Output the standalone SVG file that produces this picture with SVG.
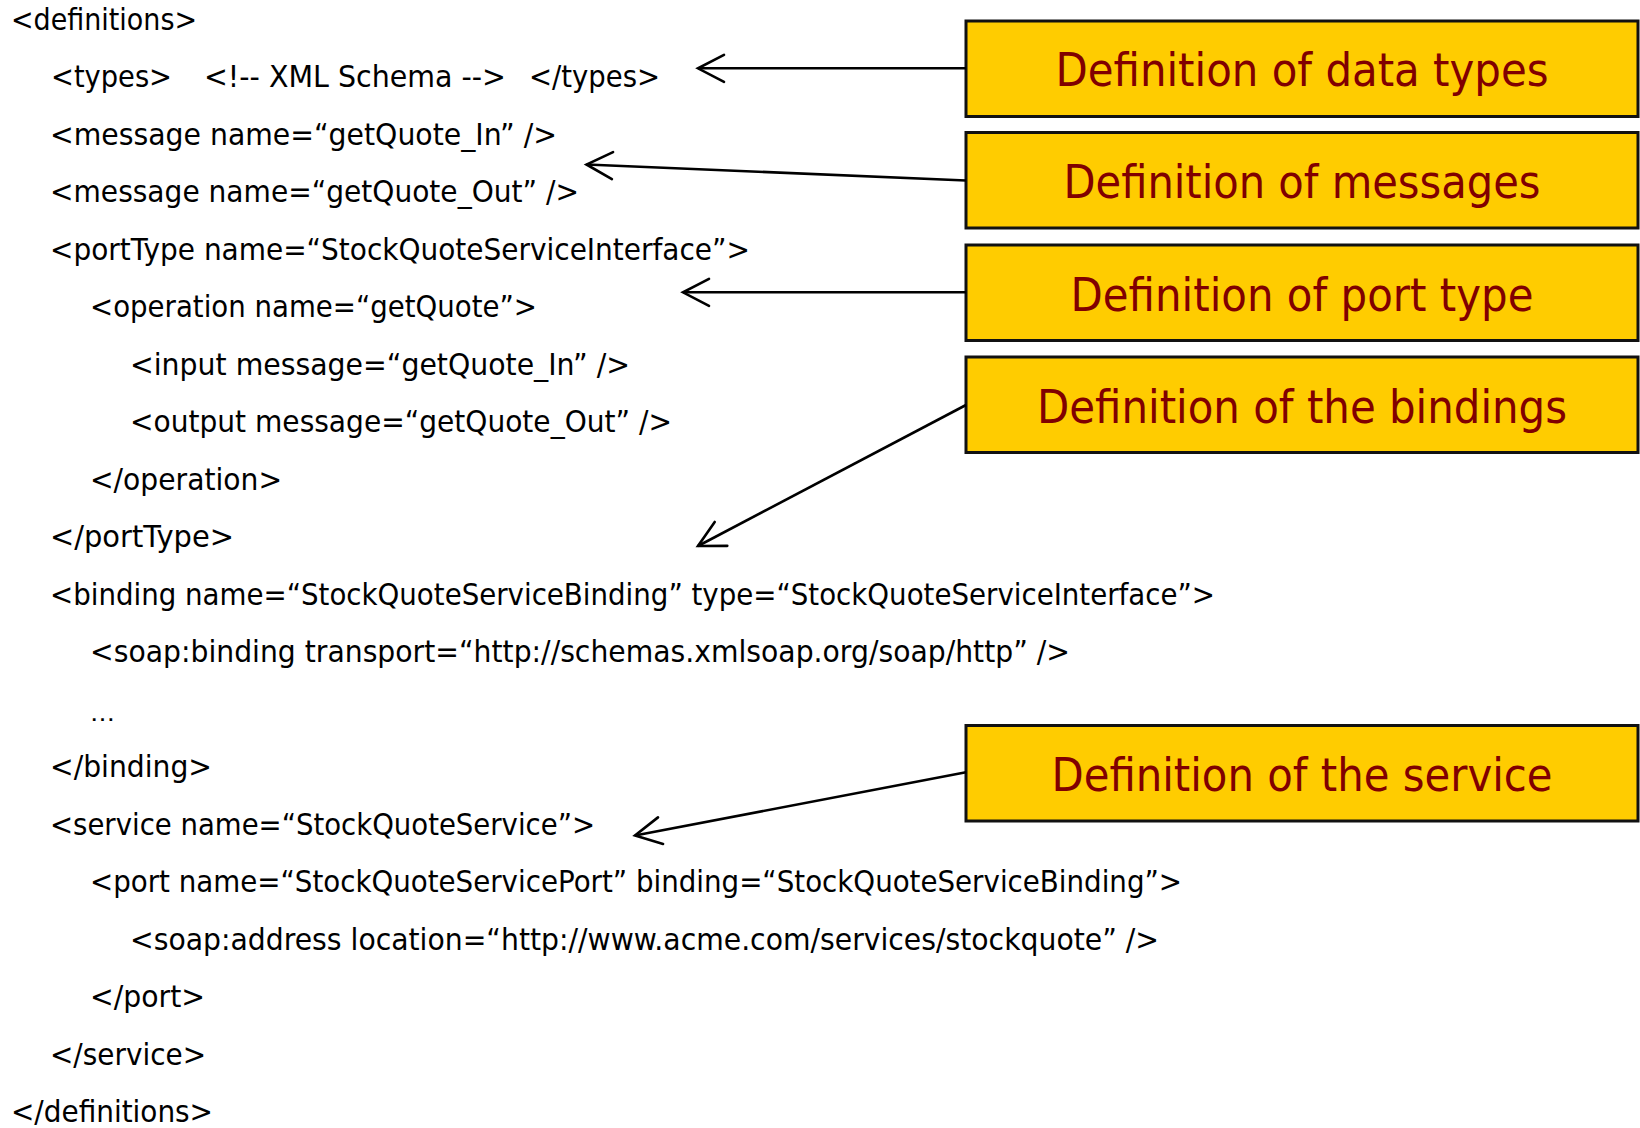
<svg xmlns="http://www.w3.org/2000/svg" width="1640" height="1128" viewBox="0 0 1640 1128">
  <style>
    .code { font-family: "DejaVu Sans", Verdana, sans-serif; font-size: 31px; fill: #000; }
    .box rect { fill: #FFCC00; stroke: #111; stroke-width: 3; }
    .box text { font-family: "DejaVu Sans", Verdana, sans-serif; font-size: 46px; fill: #800000; text-anchor: middle; }
    .conn line { stroke: #000; stroke-width: 2.6; fill: none; }
  </style>
  <defs>
    <marker id="openArrow" markerUnits="userSpaceOnUse" viewBox="-30 -16 32 32" refX="0" refY="0" markerWidth="32" markerHeight="32" orient="auto" overflow="visible">
      <path d="M -26 -13.5 L 0 0 L -26 13.5" fill="none" stroke="#000" stroke-width="2.6" stroke-linecap="round" stroke-linejoin="miter"/>
    </marker>
  </defs>
  <rect width="1640" height="1128" fill="#fff"/>

  <!-- WSDL listing -->
  <g id="wsdl-code" class="code">
    <text x="11" y="29.5" textLength="186" lengthAdjust="spacingAndGlyphs">&lt;definitions&gt;</text>
    <text y="87"><tspan x="51" textLength="121" lengthAdjust="spacingAndGlyphs">&lt;types&gt;</tspan></text>
    <text y="87"><tspan x="204" textLength="302" lengthAdjust="spacingAndGlyphs">&lt;!-- XML Schema --&gt;</tspan></text>
    <text y="87"><tspan x="529" textLength="131" lengthAdjust="spacingAndGlyphs">&lt;/types&gt;</tspan></text>
    <text x="50" y="144.5" textLength="507" lengthAdjust="spacingAndGlyphs">&lt;message name=“getQuote_In” /&gt;</text>
    <text x="50" y="202" textLength="529" lengthAdjust="spacingAndGlyphs">&lt;message name=“getQuote_Out” /&gt;</text>
    <text x="50" y="259.5" textLength="700" lengthAdjust="spacingAndGlyphs">&lt;portType name=“StockQuoteServiceInterface”&gt;</text>
    <text x="90" y="317" textLength="447" lengthAdjust="spacingAndGlyphs">&lt;operation name=“getQuote”&gt;</text>
    <text x="130" y="374.5" textLength="500" lengthAdjust="spacingAndGlyphs">&lt;input message=“getQuote_In” /&gt;</text>
    <text x="130" y="432" textLength="542" lengthAdjust="spacingAndGlyphs">&lt;output message=“getQuote_Out” /&gt;</text>
    <text x="90" y="489.5" textLength="192" lengthAdjust="spacingAndGlyphs">&lt;/operation&gt;</text>
    <text x="50" y="547" textLength="184" lengthAdjust="spacingAndGlyphs">&lt;/portType&gt;</text>
    <text x="50" y="604.5" textLength="1165" lengthAdjust="spacingAndGlyphs">&lt;binding name=“StockQuoteServiceBinding” type=“StockQuoteServiceInterface”&gt;</text>
    <text x="90" y="662" textLength="980" lengthAdjust="spacingAndGlyphs">&lt;soap:binding transport=“http://schemas.xmlsoap.org/soap/http” /&gt;</text>
    <text x="90" y="721" textLength="25" lengthAdjust="spacingAndGlyphs" font-size="22">…</text>
    <text x="50" y="777" textLength="162" lengthAdjust="spacingAndGlyphs">&lt;/binding&gt;</text>
    <text x="50" y="834.5" textLength="545" lengthAdjust="spacingAndGlyphs">&lt;service name=“StockQuoteService”&gt;</text>
    <text x="90" y="892" textLength="1092" lengthAdjust="spacingAndGlyphs">&lt;port name=“StockQuoteServicePort” binding=“StockQuoteServiceBinding”&gt;</text>
    <text x="130" y="949.5" textLength="1029" lengthAdjust="spacingAndGlyphs">&lt;soap:address location=“http://www.acme.com/services/stockquote” /&gt;</text>
    <text x="90" y="1007" textLength="115" lengthAdjust="spacingAndGlyphs">&lt;/port&gt;</text>
    <text x="50" y="1064.5" textLength="156" lengthAdjust="spacingAndGlyphs">&lt;/service&gt;</text>
    <text x="11" y="1122" textLength="202" lengthAdjust="spacingAndGlyphs">&lt;/definitions&gt;</text>
  </g>

  <!-- callout boxes -->
  <g id="box-types" class="box">
    <rect x="966" y="21" width="672" height="95.5"/>
    <text x="1302" y="86" textLength="493" lengthAdjust="spacingAndGlyphs">Definition of data types</text>
  </g>
  <g id="box-messages" class="box">
    <rect x="966" y="132.5" width="672" height="95.5"/>
    <text x="1302" y="198" textLength="477" lengthAdjust="spacingAndGlyphs">Definition of messages</text>
  </g>
  <g id="box-porttype" class="box">
    <rect x="966" y="245" width="672" height="95.5"/>
    <text x="1302" y="311" textLength="463" lengthAdjust="spacingAndGlyphs">Definition of port type</text>
  </g>
  <g id="box-bindings" class="box">
    <rect x="966" y="357" width="672" height="95.5"/>
    <text x="1302" y="423" textLength="530" lengthAdjust="spacingAndGlyphs">Definition of the bindings</text>
  </g>
  <g id="box-service" class="box">
    <rect x="966" y="725.5" width="672" height="95.5"/>
    <text x="1302" y="791" textLength="501" lengthAdjust="spacingAndGlyphs">Definition of the service</text>
  </g>

  <!-- pointers from callouts to the listing -->
  <g id="connectors" class="conn">
    <line x1="966" y1="68.3" x2="698" y2="68.3" marker-end="url(#openArrow)"/>
    <line x1="966" y1="180.5" x2="586.5" y2="164.5" marker-end="url(#openArrow)"/>
    <line x1="966" y1="292.3" x2="683" y2="292.3" marker-end="url(#openArrow)"/>
    <line x1="966" y1="405" x2="698" y2="546" marker-end="url(#openArrow)"/>
    <line x1="966" y1="772.3" x2="635" y2="835.5" marker-end="url(#openArrow)"/>
  </g>
</svg>
